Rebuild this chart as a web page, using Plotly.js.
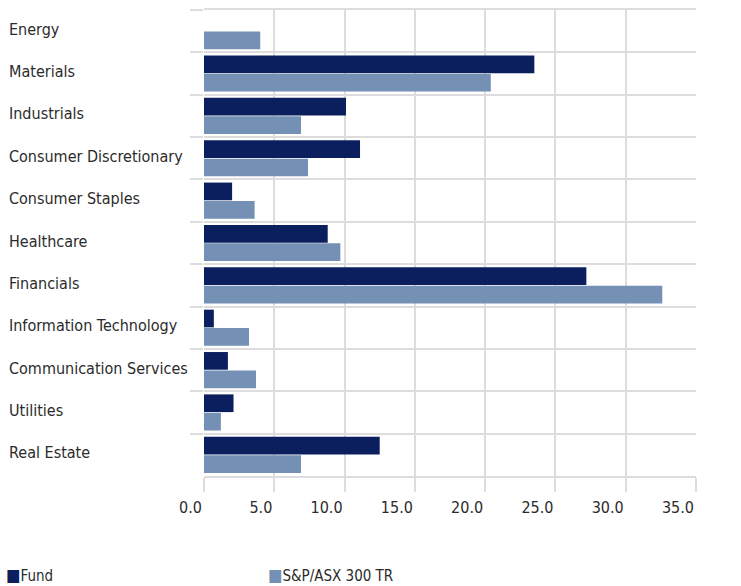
<!DOCTYPE html>
<html>
<head>
<meta charset="utf-8">
<script src="https://cdn.plot.ly/plotly-3.0.1.min.js"></script>
<style>
  html, body { margin: 0; padding: 0; background: #fff; }
  #chart { width: 741px; height: 586px; }
</style>
</head>
<body>
<div id="chart"></div>
<script>
const categories = [
  "Energy", "Materials", "Industrials", "Consumer Discretionary",
  "Consumer Staples", "Healthcare", "Financials", "Information Technology",
  "Communication Services", "Utilities", "Real Estate"
];
const fundValues = [0.0, 23.5, 10.1, 11.1, 2.0, 8.8, 27.2, 0.7, 1.7, 2.1, 12.5];
const benchmarkValues = [4.0, 20.4, 6.9, 7.4, 3.6, 9.7, 32.6, 3.2, 3.7, 1.2, 6.9];
const seriesNames = ["Fund", "S&P/ASX 300 TR"];
const xTickValues = [0, 5, 10, 15, 20, 25, 30, 35];

const FONT = "'DejaVu Sans Condensed', 'Liberation Sans Narrow', sans-serif";
const TEXT = "#2b2b2b";
const GRID = "#dddddd";
const colors = ["#0b1f5e", "#7490b5"];

const traces = [
  { type: "bar", orientation: "h", name: seriesNames[0], y: categories, x: fundValues,
    marker: { color: colors[0] }, showlegend: false, hoverinfo: "x+y" },
  { type: "bar", orientation: "h", name: seriesNames[1], y: categories, x: benchmarkValues,
    marker: { color: colors[1] }, showlegend: false, hoverinfo: "x+y" }
];

const plotLeft = 204, plotWidth = 741 - 204 - 45, plotTop = 10, plotHeight = 586 - 10 - 110;

const annotations = categories.map(c => ({
  xref: "paper", yref: "y", x: (7 - plotLeft) / plotWidth, y: c,
  xanchor: "left", yanchor: "middle", yshift: 2, showarrow: false,
  text: c, font: { family: FONT, size: 16, color: TEXT }
}));

const legendX = [4, 266];
seriesNames.forEach((n, i) => {
  annotations.push({
    xref: "paper", yref: "paper",
    x: (legendX[i] - plotLeft) / plotWidth,
    y: -(575 - (plotTop + plotHeight)) / plotHeight,
    xanchor: "left", yanchor: "middle", showarrow: false,
    text: '<span style="color:' + colors[i] + ';font-size:17px">■</span>' + n,
    font: { family: FONT, size: 15, color: TEXT }
  });
});

const layout = {
  width: 741, height: 586,
  margin: { l: plotLeft, r: 45, t: plotTop, b: 110, pad: 0 },
  paper_bgcolor: "#ffffff", plot_bgcolor: "#ffffff",
  barmode: "group", bargap: 0.13, bargroupgap: 0.04,
  font: { family: FONT, size: 16, color: TEXT },
  xaxis: {
    range: [0, 35], tickvals: xTickValues, tickformat: ".1f",
    showgrid: true, gridcolor: GRID, gridwidth: 2, zeroline: false,
    showline: true, linecolor: GRID, linewidth: 2, mirror: true,
    ticks: "outside", ticklen: 14, tickwidth: 2, tickcolor: GRID,
    ticklabelposition: "outside left", ticklabelstandoff: 16,
    tickfont: { family: FONT, size: 16, color: TEXT }
  },
  yaxis: {
    type: "category", autorange: "reversed", tickson: "boundaries",
    showgrid: true, gridcolor: GRID, gridwidth: 2, zeroline: false, showline: false,
    ticks: "outside", ticklen: 13, tickwidth: 2, tickcolor: GRID,
    showticklabels: false
  },
  annotations: annotations
};

Plotly.newPlot("chart", traces, layout, { displayModeBar: false, staticPlot: true });
</script>
</body>
</html>
